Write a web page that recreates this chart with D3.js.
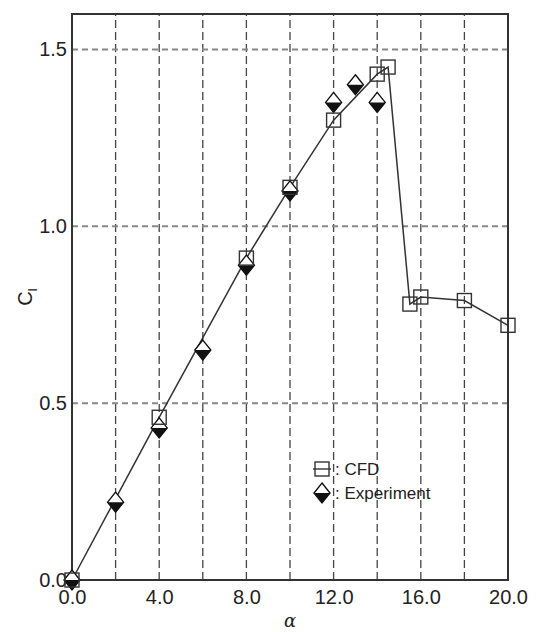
<!DOCTYPE html>
<html lang="en">
<head>
<meta charset="UTF-8">
<title>Cl vs alpha</title>
<script src="https://cdn.jsdelivr.net/npm/d3@7/dist/d3.min.js"></script>
<style>
body { margin: 0; background: #fff; }
text { font-family: 'Liberation Sans Narrow', 'Arial Narrow', 'Liberation Sans', sans-serif; fill: #222; }
</style>
</head>
<body>
<script>
// CFD results (squares, joined by a line)
const cfdAlpha = [0, 4, 8, 10, 12, 14, 14.5, 15.5, 16, 18, 20];
const cfdCl    = [0, 0.46, 0.91, 1.11, 1.30, 1.43, 1.45, 0.78, 0.80, 0.79, 0.72];
// experiment (half-filled diamonds)
const expAlpha = [0, 2, 4, 6, 8, 10, 12, 13, 14];
const expCl    = [0, 0.22, 0.43, 0.65, 0.89, 1.10, 1.35, 1.40, 1.35];

const xTicks = [0, 4, 8, 12, 16, 20];
const xGrid  = [2, 4, 6, 8, 10, 12, 14, 16, 18];
const yTicks = [0, 0.5, 1.0, 1.5];
const legendItems = [': CFD', ': Experiment'];

const width = 536, height = 632;
const margin = {top: 14, right: 28, bottom: 52, left: 72};

const svg = d3.select('body').append('svg')
    .attr('width', width)
    .attr('height', height);

const x = d3.scaleLinear().domain([0, 20]).range([margin.left, width - margin.right]);
const y = d3.scaleLinear().domain([0, 1.6]).range([height - margin.bottom, margin.top]);

// grid lines
svg.append('g').selectAll('line')
    .data(xGrid).enter().append('line')
    .attr('x1', d => x(d)).attr('x2', d => x(d))
    .attr('y1', y(0)).attr('y2', y(1.6))
    .attr('stroke', '#444').attr('stroke-width', 1.3)
    .attr('stroke-dasharray', '8,4');

svg.append('g').selectAll('line')
    .data(yTicks.filter(d => d > 0)).enter().append('line')
    .attr('x1', x(0)).attr('x2', x(20))
    .attr('y1', d => y(d)).attr('y2', d => y(d))
    .attr('stroke', '#888').attr('stroke-width', 2)
    .attr('stroke-dasharray', '6,4');

// frame
svg.append('rect')
    .attr('x', x(0)).attr('y', y(1.6))
    .attr('width', x(20) - x(0)).attr('height', y(0) - y(1.6))
    .attr('fill', 'none').attr('stroke', '#333').attr('stroke-width', 2);

// axes (labels only)
const xAxis = svg.append('g')
    .attr('transform', `translate(0,${y(0)})`)
    .call(d3.axisBottom(x).tickValues(xTicks).tickFormat(d3.format('.1f')).tickSize(0).tickPadding(10));
const yAxis = svg.append('g')
    .attr('transform', `translate(${x(0)},0)`)
    .call(d3.axisLeft(y).tickValues(yTicks).tickFormat(d3.format('.1f')).tickSize(0).tickPadding(5));
[xAxis, yAxis].forEach(a => {
    a.select('.domain').remove();
    a.selectAll('text').style('font-size', '20px').attr('fill', '#1a1a1a');
});

// axis titles
svg.append('text')
    .attr('x', x(10)).attr('y', 627)
    .attr('text-anchor', 'middle')
    .style('font-family', "'DejaVu Serif', serif")
    .style('font-style', 'italic')
    .style('font-size', '18px')
    .text('α');

const yl = svg.append('text')
    .attr('transform', `translate(32,${y(0.8)}) rotate(-90)`)
    .attr('text-anchor', 'middle')
    .style('font-size', '20px');
yl.append('tspan').text('C');
yl.append('tspan').attr('dy', 5).style('font-size', '13px').text('l');

// CFD line
const line = d3.line().x(d => x(d[0])).y(d => y(d[1]));
const cfd = cfdAlpha.map((a, i) => [a, cfdCl[i]]);
const exp = expAlpha.map((a, i) => [a, expCl[i]]);

svg.append('path')
    .datum(cfd)
    .attr('d', line)
    .attr('fill', 'none').attr('stroke', '#333').attr('stroke-width', 1.5);

// markers
function square(g, cx, cy) {
    g.append('rect')
        .attr('x', cx - 7).attr('y', cy - 7)
        .attr('width', 14).attr('height', 14)
        .attr('fill', 'none').attr('stroke', '#333').attr('stroke-width', 1.4);
}
function diamond(g, cx, cy) {
    g.append('path')
        .attr('d', `M${cx},${cy - 10}L${cx + 8},${cy}L${cx},${cy + 10}L${cx - 8},${cy}Z`)
        .attr('fill', '#fff').attr('stroke', '#111').attr('stroke-width', 1.4);
    g.append('path')
        .attr('d', `M${cx - 8},${cy}L${cx + 8},${cy}L${cx},${cy + 10}Z`)
        .attr('fill', '#111');
}

const mk = svg.append('g');
exp.forEach(d => diamond(mk, x(d[0]), y(d[1])));
cfd.forEach(d => square(mk, x(d[0]), y(d[1])));

// legend
const lg = svg.append('g').attr('transform', 'translate(322,469)');
lg.append('line').attr('x1', -9).attr('x2', 9).attr('y1', 0).attr('y2', 0)
    .attr('stroke', '#333').attr('stroke-width', 1.4);
square(lg, 0, 0);
diamond(lg, 0, 24);
lg.selectAll('text.leg')
    .data(legendItems).enter().append('text')
    .attr('class', 'leg')
    .attr('x', 13).attr('y', (d, i) => i * 24 + 6)
    .style('font-size', '17px')
    .text(d => d);
</script>
</body>
</html>
